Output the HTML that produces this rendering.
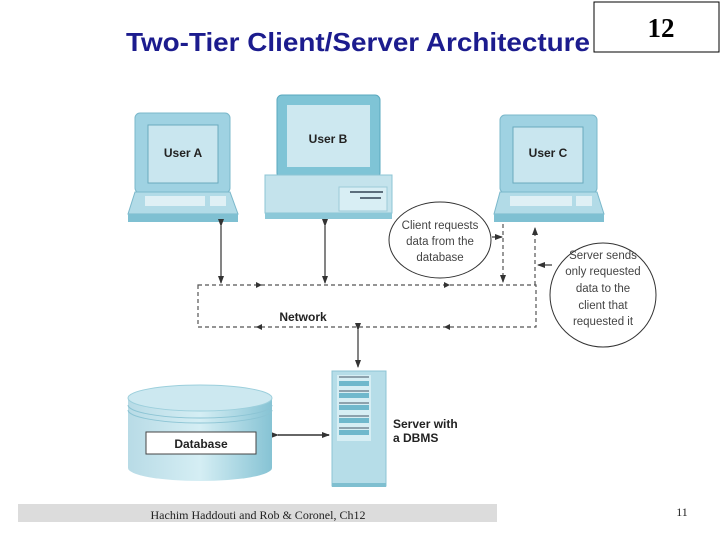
<!DOCTYPE html>
<html><head><meta charset="utf-8"><style>
html,body{margin:0;padding:0;background:#fff;}
svg{display:block;}
.s{font-family:"Liberation Sans",sans-serif;}
</style></head><body>
<svg width="720" height="540" viewBox="0 0 720 540" xmlns="http://www.w3.org/2000/svg">
<defs>
<marker id="ah" markerWidth="8" markerHeight="8" refX="7" refY="4" orient="auto" markerUnits="userSpaceOnUse"><path d="M0,1 L8,4 L0,7 Z" fill="#333"/></marker>
<linearGradient id="cyl" x1="0" x2="1"><stop offset="0" stop-color="#b8dbe6"/><stop offset="0.5" stop-color="#d5eef4"/><stop offset="1" stop-color="#86c3d4"/></linearGradient>
</defs>
<text x="126" y="51" class="s" font-size="26" font-weight="bold" fill="#1c1c8e" textLength="464" lengthAdjust="spacingAndGlyphs">Two-Tier Client/Server Architecture</text>
<rect x="594" y="2" width="125" height="50" fill="#fff" stroke="#000"/>
<text x="661" y="37" font-family="Liberation Serif,serif" font-weight="bold" font-size="27" text-anchor="middle">12</text>

<!-- Laptop A -->
<g>
<rect x="135" y="113" width="95" height="80" rx="5" fill="#9fd2e2" stroke="#7bb8cb"/>
<rect x="148" y="125" width="70" height="58" fill="#c9e6ef" stroke="#6aaabd"/>
<text x="183" y="157" class="s" font-size="12" font-weight="bold" text-anchor="middle" fill="#222">User A</text>
<path d="M135,192 L230,192 L238,214 L128,214 Z" fill="#b2dbe7" stroke="#7bb8cb"/>
<rect x="145" y="196" width="60" height="10" fill="#dff0f5"/>
<rect x="210" y="196" width="16" height="10" fill="#dff0f5"/>
<rect x="128" y="214" width="110" height="8" fill="#7fc0d2"/>
</g>
<!-- User B -->
<g>
<rect x="277" y="95" width="103" height="83" rx="5" fill="#7fc4d6" stroke="#5aa9bf"/>
<rect x="287" y="105" width="83" height="62" fill="#cde8f0"/>
<text x="328" y="143" class="s" font-size="12" font-weight="bold" text-anchor="middle" fill="#222">User B</text>
<rect x="265" y="175" width="127" height="38" fill="#c4e3ec" stroke="#8cc4d4"/>
<rect x="339" y="187" width="48" height="24" fill="#d8eef4" stroke="#9ccbd8"/>
<line x1="350" y1="192" x2="383" y2="192" stroke="#345" stroke-width="1.5"/>
<line x1="360" y1="198" x2="381" y2="198" stroke="#345" stroke-width="1.5"/>
<rect x="265" y="213" width="127" height="6" fill="#8cc8d8"/>
</g>
<!-- Laptop C -->
<g>
<rect x="500" y="115" width="97" height="78" rx="5" fill="#9fd2e2" stroke="#7bb8cb"/>
<rect x="513" y="127" width="70" height="56" fill="#c9e6ef" stroke="#6aaabd"/>
<text x="548" y="157" class="s" font-size="12" font-weight="bold" text-anchor="middle" fill="#222">User C</text>
<path d="M500,192 L597,192 L604,214 L494,214 Z" fill="#b2dbe7" stroke="#7bb8cb"/>
<rect x="510" y="196" width="62" height="10" fill="#dff0f5"/>
<rect x="576" y="196" width="16" height="10" fill="#dff0f5"/>
<rect x="494" y="214" width="110" height="8" fill="#7fc0d2"/>
</g>

<!-- connectors -->
<g stroke="#333" stroke-width="1.2" fill="none">
<line x1="221" y1="226" x2="221" y2="283" marker-end="url(#ah)" marker-start="url(#ah)"/>
<line x1="325" y1="226" x2="325" y2="283" marker-end="url(#ah)" marker-start="url(#ah)"/>
<line x1="358" y1="330" x2="358" y2="367" marker-end="url(#ah)" marker-start="url(#ah)"/>
<line x1="278" y1="435" x2="329" y2="435" stroke="#666" stroke-width="2" marker-end="url(#ah)" marker-start="url(#ah)"/>
<line x1="492" y1="237" x2="502" y2="237" marker-end="url(#ah)"/>
<line x1="552" y1="265" x2="538" y2="265" marker-end="url(#ah)"/>
</g>
<g stroke="#555" stroke-width="1.2" fill="none" stroke-dasharray="4,3">
<rect x="198" y="285" width="338" height="42"/>
<line x1="503" y1="224" x2="503" y2="282" marker-end="url(#ah)"/>
<line x1="535" y1="285" x2="535" y2="228" marker-end="url(#ah)"/>
</g>
<g fill="#333">
<path d="M256,282 L262,285 L256,288 Z"/><path d="M444,282 L450,285 L444,288 Z"/>
<path d="M262,324 L256,327 L262,330 Z"/><path d="M450,324 L444,327 L450,330 Z"/>
</g>
<text x="303" y="321" class="s" font-size="12" font-weight="bold" text-anchor="middle" fill="#222">Network</text>

<ellipse cx="440" cy="240" rx="51" ry="38" fill="#fff" stroke="#333" stroke-width="1"/>
<g class="s" font-size="11.5" fill="#444" text-anchor="middle">
<text x="440" y="229">Client requests</text>
<text x="440" y="245">data from the</text>
<text x="440" y="261">database</text>
</g>
<ellipse cx="603" cy="295" rx="53" ry="52" fill="#fff" stroke="#333" stroke-width="1"/>
<g class="s" font-size="11.5" fill="#444" text-anchor="middle">
<text x="603" y="259">Server sends</text>
<text x="603" y="275">only requested</text>
<text x="603" y="292">data to the</text>
<text x="603" y="309">client that</text>
<text x="603" y="325">requested it</text>
</g>

<!-- server -->
<rect x="332" y="371" width="54" height="115" fill="#b6dde8" stroke="#8cc4d4"/>
<rect x="337" y="375" width="34" height="66" fill="#d6eef4"/>
<g fill="#6fb8cc">
<rect x="339" y="381" width="30" height="5"/><rect x="339" y="393" width="30" height="5"/><rect x="339" y="405" width="30" height="5"/><rect x="339" y="418" width="30" height="5"/><rect x="339" y="430" width="30" height="5"/>
</g>
<g stroke="#456" stroke-width="1"><line x1="339" y1="377" x2="369" y2="377"/><line x1="339" y1="391" x2="369" y2="391"/><line x1="339" y1="403" x2="369" y2="403"/><line x1="339" y1="416" x2="369" y2="416"/><line x1="339" y1="428" x2="369" y2="428"/></g>
<rect x="332" y="483" width="54" height="4" fill="#7fbfd0"/>
<text x="393" y="428" class="s" font-size="12" font-weight="bold" fill="#222">Server with</text>
<text x="393" y="442" class="s" font-size="12" font-weight="bold" fill="#222">a DBMS</text>

<!-- database -->
<path d="M128,400 L128,468 A72,13 0 0 0 272,468 L272,400 Z" fill="url(#cyl)"/>
<ellipse cx="200" cy="398" rx="72" ry="13" fill="#cce8f0" stroke="#9ccfdc"/>
<path d="M128,405 A72,13 0 0 0 272,405 M128,410 A72,13 0 0 0 272,410" fill="none" stroke="#8cc4d4"/>
<rect x="146" y="432" width="110" height="22" fill="#fff" stroke="#444"/>
<text x="201" y="448" class="s" font-size="12" font-weight="bold" text-anchor="middle" fill="#222">Database</text>

<!-- footer -->
<rect x="18" y="504" width="479" height="18" fill="#dcdcdc"/>
<text x="258" y="519" font-family="Liberation Serif,serif" font-size="12" text-anchor="middle" fill="#222">Hachim Haddouti and  Rob &amp; Coronel, Ch12</text>
<text x="682" y="516" font-family="Liberation Serif,serif" font-size="12" text-anchor="middle" fill="#222">11</text>
</svg>
</body></html>
